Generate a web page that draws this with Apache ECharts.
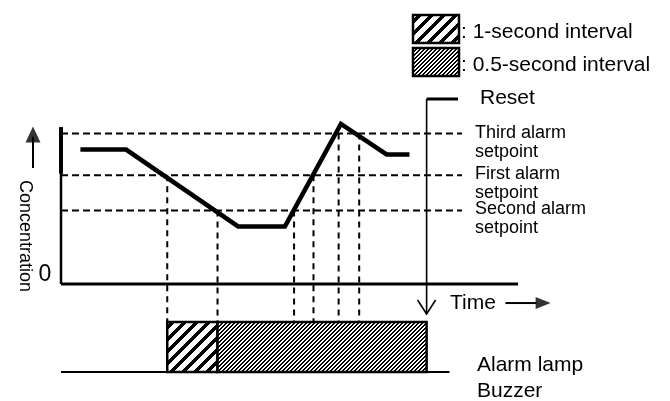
<!DOCTYPE html>
<html>
<head>
<meta charset="utf-8">
<script src="https://cdn.jsdelivr.net/npm/echarts@6/dist/echarts.min.js"></script>
<style>
html,body{margin:0;padding:0;background:#fff;}
#c{width:670px;height:401px;}
</style>
</head>
<body>
<div id="c"></div>
<script>
// ---- data ----
const curveTime = [1.7, 5.7, 15.5, 19.6, 24.5, 28.5, 30.5];
const curveConc = [84, 84, 36, 36, 100, 81, 81];
const setpointLabels = ['Third alarm\nsetpoint', 'First alarm\nsetpoint', 'Second alarm\nsetpoint'];
const setpointValues = [94, 68, 46];
const crossTimes = [9.3, 13.7, 20.4, 22.1, 24.3, 26.1];
const crossLevels = [68, 46, 46, 68, 94, 94];
const lampStarts = [9.3, 13.7];
const lampEnds = [13.7, 32.0];
const lampNames = ['1-second interval', '0.5-second interval'];
const resetTime = 32.0;

// ---- layout constants ----
const FONT = '"Liberation Sans", Arial, Helvetica, sans-serif';
const W = 670, ORIGIN_X = 61, PX_PER_T = 457 / 40;
const lampTop = -23.75, lampBottom = -55;
const setpointEnd = 35.1;
const yAxisTop = 98, yAxisThickFrom = 69;
const xAxisEnd = 40;
const resetTop = 115.6, resetTip = -18.75, resetBarEnd = 34.75;

function stripes(period, black) {
  const c = document.createElement('canvas');
  c.width = period; c.height = period;
  const g = c.getContext('2d');
  g.fillStyle = '#fff'; g.fillRect(0, 0, period, period);
  g.fillStyle = '#000';
  for (let y = 0; y < period; y++) {
    for (let x = 0; x < period; x++) {
      if ((x + y) % period < black) g.fillRect(x, y, 1, 1);
    }
  }
  return c;
}
const patterns = [
  {image: stripes(12, 5), repeat: 'repeat'},
  {image: stripes(4, 2), repeat: 'repeat'}
];

function seg(data, width, dash) {
  return {type: 'line', data: data, symbol: 'none', silent: true, clip: false,
    lineStyle: {color: '#000', width: width, type: dash || 'solid', cap: 'butt', join: 'miter'}};
}

const series = [];
// concentration curve
series.push(seg(curveTime.map((t, i) => [t, curveConc[i]]), 4.5));
// setpoint dashed lines
setpointValues.forEach(v => series.push(seg([[0, v], [setpointEnd, v]], 2, [7, 4])));
// vertical dashed lines
crossTimes.forEach((t, i) => series.push(seg([[t, crossLevels[i]], [t, lampTop]], 2, [6, 5])));
// axes
series.push(seg([[0, 0], [xAxisEnd, 0]], 3));
series.push(seg([[0, 0], [0, yAxisTop]], 2.5));
series.push(seg([[0, yAxisThickFrom], [0, yAxisTop]], 4));
// lamp baseline
series.push(seg([[0, lampBottom], [34, lampBottom]], 2));
// reset
series.push(seg([[resetBarEnd, resetTop], [resetTime, resetTop]], 3));
series.push(seg([[resetTime, resetTop], [resetTime, resetTip]], 1.6));
series.push(seg([[resetTime - 0.79, -10], [resetTime, resetTip], [resetTime + 0.79, -10]], 1.6));
// concentration arrow
series.push(seg([[-2.45, 72.5], [-2.45, 92]], 2));
// time arrow
series.push(seg([[38.9, -11.9], [41.6, -11.9]], 2));
series.push({type: 'scatter', silent: true, clip: false, symbol: 'triangle',
  data: [{value: [-2.45, 93.4], symbolSize: [15, 16]},
         {value: [42.2, -11.9], symbolSize: [12, 15], symbolRotate: -90}],
  itemStyle: {color: '#000'}});
// lamp bars
series.push({
  type: 'custom', silent: true, clip: false,
  data: lampStarts.map((s, i) => [s, lampEnds[i], lampBottom, lampTop, i]),
  renderItem: function (params, api) {
    const a = api.coord([api.value(0), api.value(3)]);
    const b = api.coord([api.value(1), api.value(2)]);
    return {type: 'rect', shape: {x: a[0], y: a[1], width: b[0] - a[0], height: b[1] - a[1]},
      style: {fill: patterns[api.value(4)], stroke: '#000', lineWidth: 2.5}};
  }
});

const chart = echarts.init(document.getElementById('c'), null, {renderer: 'canvas'});
chart.setOption({
  animation: false,
  backgroundColor: '#fff',
  grid: {left: 0, right: 0, top: 4, bottom: 5},
  xAxis: {type: 'value', min: -ORIGIN_X / PX_PER_T, max: (W - ORIGIN_X) / PX_PER_T, show: false},
  yAxis: {type: 'value', min: -70, max: 175, show: false},
  series: series
});

const px = (t, v) => chart.convertToPixel({gridIndex: 0}, [t, v]);
const graphic = [];
function txt(x, y, text, size, extra) {
  graphic.push({type: 'text', x: x, y: y, silent: true,
    style: Object.assign({text: text, font: size + 'px ' + FONT, fill: '#000',
      verticalAlign: 'middle', align: 'left'}, extra || {})});
}
// setpoint labels
setpointValues.forEach((v, i) => {
  const p = px(setpointEnd, v);
  txt(475, p[1] - 10.5, setpointLabels[i], 18, {verticalAlign: 'top', lineHeight: 19});
});
// legend
lampNames.forEach((n, i) => {
  const y0 = [15, 48][i];
  graphic.push({type: 'rect', silent: true, shape: {x: 413, y: y0, width: 46, height: 28},
    style: {fill: patterns[i], stroke: '#000', lineWidth: 2.5}});
  txt(461, y0 + 17, ': ' + n, 21);
});
txt(480, 98, 'Reset', 21);
txt(450, 303, 'Time', 21);
txt(477, 365, 'Alarm lamp', 21);
txt(477, 391, 'Buzzer', 21);
txt(45, 275, '0', 23, {align: 'center'});
graphic.push({type: 'text', x: 25, y: 236, rotation: -Math.PI / 2, silent: true,
  style: {text: 'Concentration', font: '18px ' + FONT, fill: '#000', align: 'center', verticalAlign: 'middle'}});
chart.setOption({graphic: graphic});
</script>
</body>
</html>
